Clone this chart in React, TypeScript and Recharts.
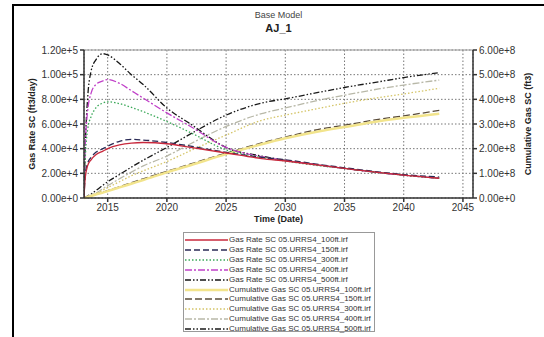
import { LineChart, Line, XAxis, YAxis, CartesianGrid, ReferenceLine } from 'recharts';

const FONT = "Arial, 'Liberation Sans', sans-serif";

// time in decimal years
const years = [2013.0, 2013.1, 2013.3, 2013.6, 2014, 2014.6, 2015, 2016, 2017, 2018, 2020, 2022, 2025, 2028, 2030, 2033, 2035, 2038, 2040, 2043];

// gas rate, thousand ft3/day
const rate100 = [0, 16, 26, 31, 35, 38, 40, 43, 44.5, 45, 44, 41, 36.5, 32, 30, 26.5, 24, 20.5, 18.5, 16];
const rate150 = [0, 18, 28, 33, 37, 40, 42, 46, 47.5, 47, 45, 42, 37, 33, 31, 27, 24.5, 21, 19, 17];
const rate300 = [0, 30, 55, 66, 73, 77, 78, 76.5, 73.5, 70, 62, 53, 39, 33, 30, 26, 24, 20.5, 18.5, 16];
const rate400 = [0, 40, 70, 85, 92, 95, 96, 93, 87, 81, 69, 58, 41, 33.5, 30.5, 26.5, 24, 20.5, 18.5, 16];
const rate500 = [0, 40, 80, 103, 112, 117, 116, 109, 100, 92, 73, 60, 41, 34, 30.5, 26.5, 24, 20.5, 18.5, 16];

// cumulative gas, 1e8 ft3
const cum100 = [0, 0.01, 0.04, 0.08, 0.14, 0.22, 0.28, 0.43, 0.58, 0.73, 1.04, 1.33, 1.78, 2.18, 2.42, 2.72, 2.88, 3.12, 3.25, 3.42];
const cum150 = [0, 0.01, 0.04, 0.09, 0.15, 0.24, 0.3, 0.46, 0.62, 0.78, 1.08, 1.38, 1.82, 2.23, 2.47, 2.8, 2.95, 3.2, 3.33, 3.55];
const cum300 = [0, 0.01, 0.06, 0.11, 0.17, 0.32, 0.42, 0.66, 0.9, 1.1, 1.48, 1.92, 2.55, 3.15, 3.36, 3.65, 3.84, 4.08, 4.22, 4.45];
const cum400 = [0, 0.02, 0.07, 0.13, 0.2, 0.38, 0.5, 0.78, 1.05, 1.3, 1.7, 2.2, 2.9, 3.42, 3.65, 3.98, 4.17, 4.43, 4.58, 4.78];
const cum500 = [0, 0.02, 0.08, 0.16, 0.3, 0.52, 0.66, 0.95, 1.25, 1.53, 2.05, 2.6, 3.36, 3.85, 4.02, 4.3, 4.48, 4.72, 4.88, 5.08];

const xTicks = [2015, 2020, 2025, 2030, 2035, 2040, 2045];
const rateTicks = [0, 20000, 40000, 60000, 80000, 100000, 120000];
const cumTicks = [0, 1e8, 2e8, 3e8, 4e8, 5e8, 6e8];

const series = [
  { key: 'r100', name: 'Gas Rate SC 05.URRS4_100ft.irf', axis: 'left', values: rate100, scale: 1000, color: '#c8283c', dash: undefined, width: 1.3 },
  { key: 'r150', name: 'Gas Rate SC 05.URRS4_150ft.irf', axis: 'left', values: rate150, scale: 1000, color: '#2a2a55', dash: '6 3', width: 1.3 },
  { key: 'r300', name: 'Gas Rate SC 05.URRS4_300ft.irf', axis: 'left', values: rate300, scale: 1000, color: '#3aa858', dash: '1.5 2', width: 1.3 },
  { key: 'r400', name: 'Gas Rate SC 05.URRS4_400ft.irf', axis: 'left', values: rate400, scale: 1000, color: '#c040c8', dash: '7 2 2 2', width: 1.3 },
  { key: 'r500', name: 'Gas Rate SC 05.URRS4_500ft.irf', axis: 'left', values: rate500, scale: 1000, color: '#151515', dash: '6 2 1.5 2 1.5 2', width: 1.3 },
  { key: 'c100', name: 'Cumulative Gas SC 05.URRS4_100ft.irf', axis: 'right', values: cum100, scale: 1e8, color: '#f2e48c', dash: undefined, width: 2.5 },
  { key: 'c150', name: 'Cumulative Gas SC 05.URRS4_150ft.irf', axis: 'right', values: cum150, scale: 1e8, color: '#5a4c3a', dash: '7 3', width: 1.3 },
  { key: 'c300', name: 'Cumulative Gas SC 05.URRS4_300ft.irf', axis: 'right', values: cum300, scale: 1e8, color: '#d4c466', dash: '1.5 2', width: 1.3 },
  { key: 'c400', name: 'Cumulative Gas SC 05.URRS4_400ft.irf', axis: 'right', values: cum400, scale: 1e8, color: '#b8b8a8', dash: '7 2 2 2', width: 1.3 },
  { key: 'c500', name: 'Cumulative Gas SC 05.URRS4_500ft.irf', axis: 'right', values: cum500, scale: 1e8, color: '#1a1a1a', dash: '6 2 1.5 2 1.5 2', width: 1.3 },
];

const data = years.map((t, i) => {
  const row: { [k: string]: number } = { t };
  series.forEach((s) => { row[s.key] = s.values[i] * s.scale; });
  return row;
});

const expFmt = (v: number) => v.toExponential(2);

const tickStyle = { fontSize: 10, fill: '#333', fontFamily: FONT };
const axisTitle = { fontSize: 9, fontWeight: 'bold', fill: '#222', fontFamily: FONT, textAnchor: 'middle' as const };

function LegendBox() {
  return (
    <div style={{ position: 'absolute', left: 183, top: 232, width: 192, height: 100, border: '1px solid #999', boxSizing: 'border-box', background: '#fff' }}>
      {series.map((s, i) => (
        <div key={s.key} style={{ position: 'absolute', left: 1, top: 2 + i * 9.9, height: 10, display: 'flex', alignItems: 'center', whiteSpace: 'nowrap' }}>
          <svg width={43} height={10}>
            <line x1={0} y1={5} x2={43} y2={5} stroke={s.color} strokeWidth={s.width} strokeDasharray={s.dash} />
          </svg>
          <span style={{ fontFamily: FONT, fontSize: 8, color: '#333', marginLeft: 1, lineHeight: '10px' }}>{s.name}</span>
        </div>
      ))}
    </div>
  );
}

export default function App() {
  return (
    <div style={{ position: 'absolute', left: 0, top: 0, width: 544, height: 337, background: '#fff', overflow: 'hidden' }}>
      <div style={{ position: 'absolute', left: 12, top: 4, width: 540, height: 331, borderTop: '2px solid #000', borderLeft: '2px solid #000', borderBottom: '2px solid #000' }} />
      <div style={{ position: 'absolute', left: 0, width: 557, top: 10, textAlign: 'center', fontFamily: FONT, fontSize: 9, color: '#444' }}>Base Model</div>
      <div style={{ position: 'absolute', left: 0, width: 557, top: 22, textAlign: 'center', fontFamily: FONT, fontSize: 11, fontWeight: 'bold', color: '#222' }}>AJ_1</div>
      <div style={{ position: 'absolute', left: 0, top: 0 }}>
        <LineChart width={544} height={228} data={data} margin={{ top: 50, right: 0, bottom: 0, left: 0 }}>
          <CartesianGrid yAxisId="left" stroke="#777" strokeDasharray="1.5 2" horizontal vertical />
          <ReferenceLine yAxisId="left" y={120000} stroke="#999" strokeWidth={1} />
          <XAxis
            dataKey="t"
            type="number"
            domain={[2013, 2045.85]}
            ticks={xTicks}
            allowDataOverflow
            height={30}
            tick={tickStyle}
            tickSize={4}
            stroke="#333"
            strokeWidth={1.5}
            label={{ value: 'Time (Date)', position: 'insideBottom', offset: 6, style: axisTitle }}
          />
          <YAxis
            yAxisId="left"
            domain={[0, 120000]}
            ticks={rateTicks}
            tickFormatter={expFmt}
            width={84}
            tick={tickStyle}
            tickSize={4}
            stroke="#333"
            strokeWidth={1.5}
            label={{ value: 'Gas Rate SC (ft3/day)', angle: -90, position: 'insideLeft', offset: 32, style: axisTitle }}
          />
          <YAxis
            yAxisId="right"
            orientation="right"
            domain={[0, 6e8]}
            ticks={cumTicks}
            tickFormatter={expFmt}
            width={71}
            tick={tickStyle}
            tickSize={4}
            stroke="#333"
            strokeWidth={1.5}
            label={{ value: 'Cumulative Gas SC (ft3)', angle: -90, position: 'insideRight', offset: 16, style: axisTitle }}
          />
          {series.slice().reverse().map((s) => (
            <Line
              key={s.key}
              yAxisId={s.axis}
              dataKey={s.key}
              type="monotone"
              stroke={s.color}
              strokeWidth={s.width}
              strokeDasharray={s.dash}
              dot={false}
              activeDot={false}
              isAnimationActive={false}
            />
          ))}
        </LineChart>
      </div>
      <LegendBox />
    </div>
  );
}
